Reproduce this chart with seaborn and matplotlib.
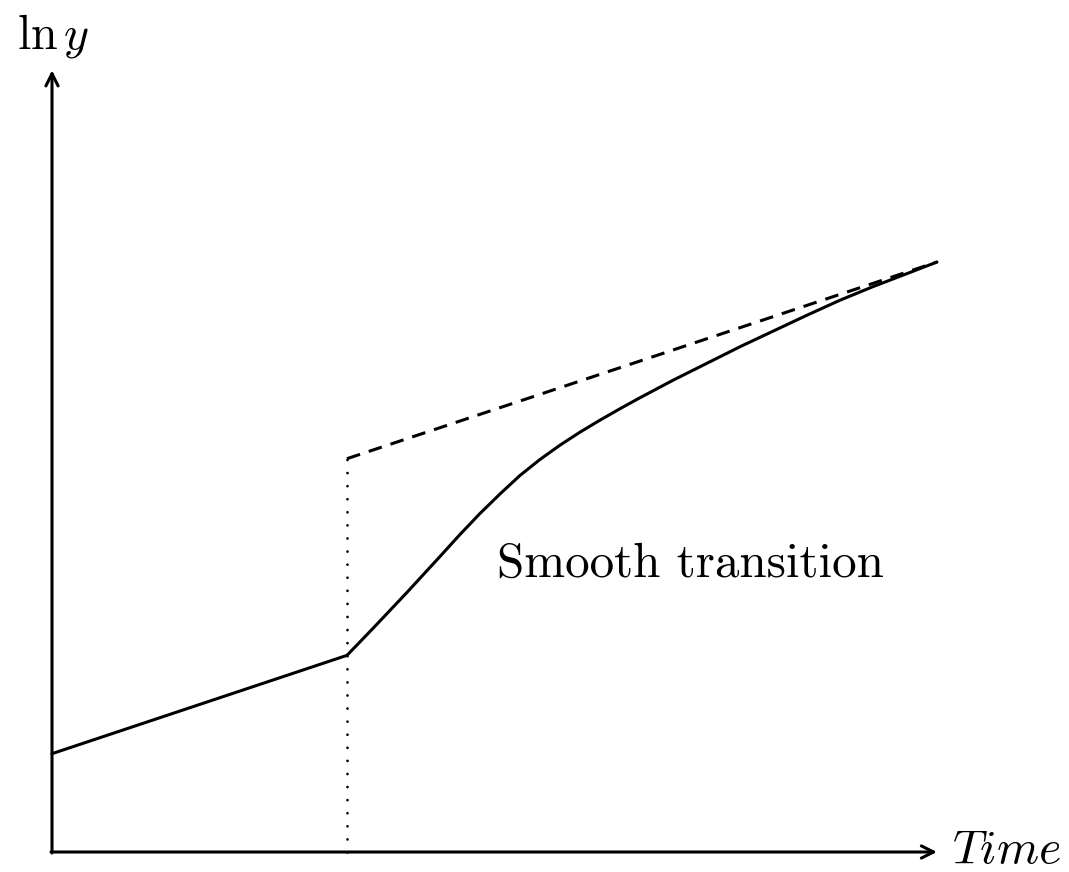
import matplotlib
matplotlib.use("Agg")
import matplotlib.pyplot as plt
import seaborn as sns
import pandas as pd

# ---- data (time units, ln y units) ----
pre_time = [0.0, 3.0]
pre_lny = [1.0, 2.0]

trans_time = [3.0, 3.27, 3.61, 3.95, 4.15, 4.35, 4.56, 4.76, 4.96, 5.17, 5.37,
              5.57, 5.78, 5.98, 6.32, 6.66, 7.00, 7.34, 7.68, 8.01, 8.35, 8.69, 9.0]
trans_lny = [2.0, 2.28, 2.64, 3.01, 3.23, 3.44, 3.645, 3.83, 3.99, 4.14, 4.27,
             4.39, 4.51, 4.62, 4.80, 4.97, 5.14, 5.30, 5.46, 5.61, 5.75, 5.88, 6.0]

path_time = [3.0, 9.0]
path_lny = [4.0, 6.0]

break_time = [3.0, 3.0]
break_lny = [0.0, 4.0]

x_axis_end = 9.0
y_axis_end = 7.95

label_y = r"$\ln y$"
label_x = r"$Time$"
note = "Smooth transition"

sns.set_style("white")
plt.rcParams["mathtext.fontset"] = "cm"
plt.rcParams["font.family"] = ["DejaVu Sans"]
plt.rcParams["text.color"] = "black"

W, H = 1069, 872
fig = plt.figure(figsize=(W / 100, H / 100), dpi=100)
ax = fig.add_axes([0, 0, 1, 1])
s = 98.33
ax.set_xlim(-52 / s, (W - 52) / s)
ax.set_ylim(-(H - 852) / s, 852 / s)
ax.axis("off")

lw = 2.2
df_pre = pd.DataFrame({"t": pre_time, "v": pre_lny})
df_tr = pd.DataFrame({"t": trans_time, "v": trans_lny})
df_path = pd.DataFrame({"t": path_time, "v": path_lny})
df_br = pd.DataFrame({"t": break_time, "v": break_lny})

sns.lineplot(data=df_pre, x="t", y="v", ax=ax, color="black", lw=lw,
             sort=False, estimator=None)
sns.lineplot(data=df_tr, x="t", y="v", ax=ax, color="black", lw=lw,
             sort=False, estimator=None, solid_joinstyle="round")
sns.lineplot(data=df_path, x="t", y="v", ax=ax, color="black", lw=lw,
             sort=False, estimator=None, linestyle=(0, (4.5, 3)))
sns.lineplot(data=df_br, x="t", y="v", ax=ax, color="black", lw=2.0,
             sort=False, estimator=None, linestyle=(0, (0.01, 4.7)),
             dash_capstyle="round")

# axes with arrows
arrow = dict(arrowstyle="->", lw=lw, color="black", shrinkA=0, shrinkB=0,
             mutation_scale=22)
ax.annotate("", xy=(0, y_axis_end), xytext=(0, -0.01), arrowprops=arrow)
ax.annotate("", xy=(x_axis_end, 0), xytext=(-0.01, 0), arrowprops=arrow)

ax.text((17 - 52) / s, (852 - 48) / s, label_y, fontsize=34.5, ha="left",
        va="baseline", color="black")
ax.text((952 - 52) / s, (852 - 863) / s, label_x, fontsize=34.5, ha="left",
        va="baseline", color="black")
ax.text((497 - 52) / s, (852 - 577) / s, note, fontsize=35.3, ha="left",
        va="baseline", color="black", family="cmr10")

fig.savefig("out.png", dpi=100)
